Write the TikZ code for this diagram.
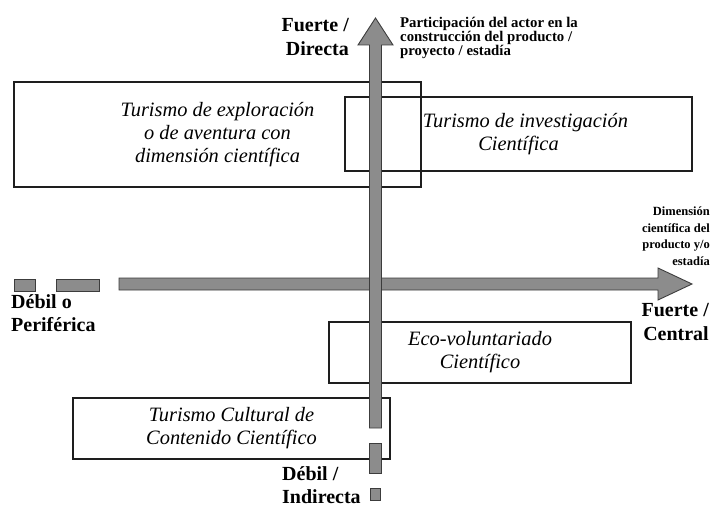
\documentclass[tikz,border=0pt]{standalone}
\usepackage{fontspec}
\setmainfont{Liberation Serif}
\usepackage{xcolor}
\usepackage{tikz}
\usetikzlibrary{positioning}
\definecolor{axFill}{HTML}{8C8C8C}
\definecolor{axLine}{HTML}{3C3C3C}
\definecolor{bxLine}{HTML}{1E1E1E}
\tikzset{
  quadbox/.style={draw=bxLine, line width=1.4pt, inner sep=0pt, outer sep=0pt,
    font=\fontsize{20.4}{23}\selectfont\itshape, align=center},
  axbar/.style={fill=axFill, draw=axLine, line width=0.9pt},
  extlabel/.style={font=\fontsize{20}{23.5}\selectfont\bfseries, inner sep=0pt},
  axtitle/.style={font=\fontsize{14.8}{13.8}\selectfont\bfseries, inner sep=0pt},
}

\begin{document}
\begin{tikzpicture}[x=1pt, y=-1pt]
  \useasboundingbox (0,0) rectangle (713,508);
  % quadrants
  \node[quadbox, minimum width=407pt, minimum height=105pt] (boxExpl) at (217.5,134.5)
    {Turismo de exploración\\ o de aventura con\\ dimensión científica};
  \node[quadbox, minimum width=347pt, minimum height=74pt] (boxInv) at (518.5,134)
    {\hspace*{14pt}Turismo de investigación\\ Científica};
  \node[quadbox, minimum width=302pt, minimum height=61pt] (boxEco) at (480,352.5)
    {Eco-voluntariado\\ Científico};
  \node[quadbox, minimum width=317pt, minimum height=61pt] (boxCult) at (231.5,428.5)
    {Turismo Cultural de\\ Contenido Científico};
  % horizontal axis
  \draw[axbar] (14,279) rectangle (35,291);
  \draw[axbar] (56,279) rectangle (99,291);
  \draw[axbar] (119,278) -- (658,278) -- (658,268) -- (692,284) -- (658,300)
    -- (658,290) -- (119,290) -- cycle;
  % vertical axis
  \draw[axbar] (369.5,428) -- (369.5,45) -- (358,45) -- (375.5,18) -- (393,45)
    -- (381.5,45) -- (381.5,428) -- cycle;
  \draw[axbar] (369.5,443) rectangle (381.5,473);
  \draw[axbar] (370.5,488) rectangle (380.5,500);
  % labels
  \node[extlabel, align=right, anchor=east] (lblFuerteDir) at (349,37) {Fuerte /\\ Directa};
  \node[extlabel, align=left, anchor=west] (lblDebilInd) at (282,485) {Débil /\\ Indirecta};
  \node[extlabel, align=left, anchor=west] (lblDebilPer) at (11,313) {Débil o\\ Periférica};
  \node[extlabel, align=right, anchor=east] (lblFuerteCen) at (709,322) {Fuerte /\\ Central};
  \node[axtitle, align=left, anchor=west] (ttlVert) at (400,38)
    {Participación del actor en la\\ construcción del producto /\\ proyecto / estadía};
  \node[axtitle, font=\fontsize{12.5}{16.5}\selectfont\bfseries, align=right, anchor=east]
    (ttlHoriz) at (710,236) {Dimensión\\ científica del\\ producto y/o\\ estadía};
\end{tikzpicture}
\end{document}
